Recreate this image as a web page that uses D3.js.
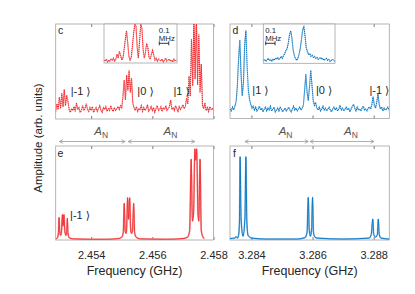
<!DOCTYPE html>
<html><head><meta charset="utf-8">
<script src="https://cdn.jsdelivr.net/npm/d3@7"></script>
<style>
body{margin:0;background:#fff}
svg{display:block}
text{font-family:"Liberation Sans",Arial,Helvetica,sans-serif;fill:#262626}
</style>
</head><body>
<svg width="415" height="294"></svg>
<script>
// ---------------- DATA ----------------
const xTicksLeft = [2.454, 2.456, 2.458];
const xTicksRight = [3.284, 3.286, 3.288];
const xDomainLeft = [2.45284, 2.45800];
const xDomainRight = [3.28330, 3.28851];

// panel c: measured spectrum (sweep start/step in GHz, amplitude arb.)
const cStart = 2.45284, cStep = 0.00004;
const cAmp = [8,16,10,23,11,27,13,31,14,25,19,10,7,11,9,13,8,17,10,12,
  7,9,14,9,11,16,10,8,12,9,13,7,10,12,8,11,14,9,7,12,
  10,13,8,11,9,14,10,8,12,9,11,13,10,14,12,24,41,20,46,30,
  51,28,43,17,12,9,13,8,11,10,14,8,12,9,11,15,8,10,13,9,
  12,7,11,14,9,10,13,8,12,10,14,9,11,13,20,10,12,9,14,11,
  8,13,10,12,15,11,13,22,16,45,24,84,35,110,42,110,36,89,28,58,
  14,11,17,9,12,8,13,10,11,9];

// panel d: measured spectrum
const dStart = 3.28330, dStep = 0.00004;
const dAmp = [10,8,12,9,13,18,34,62,83,48,24,38,78,93,55,30,20,15,11,13,
  9,12,8,10,13,9,11,7,10,12,8,11,9,13,8,10,12,7,9,11,
  8,12,10,7,9,11,8,10,12,9,7,10,13,9,11,8,10,12,9,11,
  14,30,47,28,19,33,51,36,19,14,17,11,9,12,8,10,13,9,11,8,
  10,12,9,7,10,12,9,11,8,10,14,9,11,8,10,12,9,11,7,10,
  13,15,11,8,12,9,10,8,11,13,9,10,8,11,12,10,15,23,14,11,
  17,26,15,10,12,8,11,9,10,12,9];

// insets (offset in MHz, amplitude arb.)
const insetCStep = 0.0125;
const insetCAmp = [3,2,4,1,3,2,4,3,5,2,4,9,5,12,8,3,5,14,24,33,
  21,7,3,6,18,30,40,38,16,5,22,40,36,14,5,11,20,16,6,4,
  9,13,8,3,5,2,4,3,2,4,1,3,5,2,3,4,2,3,1,4,2,3];
const insetDStep = 0.0128;
const insetDAmp = [3,4,2,3,5,3,4,2,4,3,5,4,6,4,5,7,5,8,10,13,
  15,21,29,33,26,14,8,5,3,5,9,15,24,34,37,28,16,12,9,10,
  7,8,6,7,5,6,4,5,6,4,5,3,4,5,3,4,2,3,4,3,2];
const scaleBarMHz = 0.1;

// panel e: simulated spectrum
const eFreq = [2.45284,2.45289,2.45293,2.45295,2.45297,2.45300,2.45303,2.45306,2.45308,2.45311,
  2.45314,2.45318,2.45320,2.45322,2.45324,2.45328,2.45340,2.45400,2.45450,2.45490,
  2.45500,2.45505,2.45508,2.45511,2.45514,2.45516,2.45519,2.45522,2.45526,2.45529,
  2.45532,2.45535,2.45539,2.45542,2.45547,2.45560,2.45650,2.45700,2.45715,2.45722,
  2.45727,2.45731,2.45735,2.45739,2.45742,2.45745,2.45749,2.45752,2.45756,2.45760,
  2.45766,2.45770];
const eAmp = [1.2,2,8,24,10,5,9,27,15,27,
  9,5,8,23,8,2.5,1.2,0.8,0.8,1.5,
  3,8,39,10,7,12,45,22,45,12,
  7,10,39,8,3,1.2,0.8,1.5,3,10,
  86,20,30,97,85,97,30,20,86,10,
  3,1.5];

// panel f: simulated spectrum
const fFreq = [3.28330,3.28345,3.28350,3.28354,3.28358,3.28361,3.28363,3.28366,3.283725,3.28379,
  3.28382,3.28385,3.28389,3.28393,3.28400,3.28450,3.28550,3.28575,3.28582,3.28586,
  3.28589,3.28593,3.28597,3.28600,3.28603,3.28608,3.28615,3.28700,3.28785,3.28792,
  3.28797,3.28800,3.28806,3.28812,3.28815,3.28818,3.28824,3.28851];
const fAmp = [1.5,2,3.5,2,5,20,88.6,25,4,25,
  88.6,20,5,3.5,2,1,1,2.5,8,45.4,
  12,4,12,45.4,8,3,2,1,2,6,
  22.3,6,3,6,22.3,6,2,1];

// annotations
const ketC = [["|-1 \u27E9",2.45333],["|0 \u27E9",2.45551],["|1 \u27E9",2.45669]];
const ketD = [["|1 \u27E9",3.28403],["|0 \u27E9",3.28611],["|-1 \u27E9",3.28786]];
const ketE = [["|-1 \u27E9",2.45331]];
const arrowsLeft = [[2.45296,2.45511],[2.45521,2.45739]];
const arrowsRight = [[3.28379,3.28586],[3.28592,3.28801]];

// ---------------- DRAW ----------------
const svg = d3.select("svg");
const red = "#f0282d", redLight = "#f9a3a3";
const blue = "#0072bd", blueLight = "#9cc8ea";
const boxStroke = "#a3a3a3";

const xL = d3.scaleLinear().domain(xDomainLeft).range([55.7, 213.5]);
const xR = d3.scaleLinear().domain(xDomainRight).range([230, 389.3]);
const yC = d3.scaleLinear().domain([0,100]).range([119,24]);
const yD = d3.scaleLinear().domain([0,100]).range([118.5,24]);
const yE = d3.scaleLinear().domain([0,100]).range([240,146]);
const yF = d3.scaleLinear().domain([0,100]).range([240,146]);

const defs = svg.append("defs");
let clipN = 0;
function clip(x0,y0,x1,y1){
  const id = "clip"+(clipN++);
  defs.append("clipPath").attr("id",id).append("rect")
    .attr("x",x0).attr("y",y0).attr("width",x1-x0).attr("height",y1-y0);
  return "url(#"+id+")";
}

function frame(x, y, ticks, labels){
  const [x0,x1] = x.range(), [y1,y0] = y.range();
  const g = svg.append("g");
  const bot = d3.axisBottom(x).tickValues(ticks).tickSize(-3)
    .tickPadding(11).tickFormat(labels ? d3.format(".3f") : "");
  g.append("g").attr("transform",`translate(0,${y1})`).call(bot);
  g.append("g").attr("transform",`translate(0,${y0})`)
    .call(d3.axisTop(x).tickValues(ticks).tickSize(-3).tickFormat(""));
  g.selectAll(".domain").remove();
  g.selectAll(".tick line").attr("stroke","#444").attr("stroke-width",0.7);
  g.selectAll(".tick text").attr("font-size",11).attr("fill","#262626")
    .attr("font-family",'"Liberation Sans",Arial,sans-serif');
  svg.append("rect").attr("x",x0).attr("y",y0).attr("width",x1-x0).attr("height",y1-y0)
    .attr("fill","none").attr("stroke",boxStroke).attr("stroke-width",0.8);
  return clip(x0,y0,x1,y1);
}

function measured(x, y, start, step, amp, col, light, cp){
  const line = d3.line().x((d,i)=>x(start+i*step)).y(d=>y(d));
  const g = svg.append("g").attr("clip-path",cp);
  g.append("path").attr("d",line(amp)).attr("fill","none").attr("stroke",light).attr("stroke-width",1);
  g.append("path").attr("d",line(amp)).attr("fill","none").attr("stroke",col)
    .attr("stroke-width",1.1).attr("stroke-dasharray","1.1,0.9");
}
function simulated(x, y, fr, amp, col, light, cp){
  const line = d3.line().curve(d3.curveMonotoneX).x((d,i)=>x(fr[i])).y(d=>y(d));
  const g = svg.append("g").attr("clip-path",cp);
  g.append("path").attr("d",line(amp)).attr("fill","none").attr("stroke",light).attr("stroke-width",1.7);
  g.append("path").attr("d",line(amp)).attr("fill","none").attr("stroke",col).attr("stroke-width",0.9);
}

// panels
const cpC = frame(xL, yC, xTicksLeft, false);
const cpD = frame(xR, yD, xTicksRight, false);
const cpE = frame(xL, yE, xTicksLeft, true);
const cpF = frame(xR, yF, xTicksRight, true);

measured(xL, yC, cStart, cStep, cAmp, red, redLight, cpC);
measured(xR, yD, dStart, dStep, dAmp, blue, blueLight, cpD);
simulated(xL, yE, eFreq, eAmp, red, redLight, cpE);
simulated(xR, yF, fFreq, fAmp, blue, blueLight, cpF);

// insets
function inset(x0,y0,x1,y1, step, amp, col, light, barStart){
  const xi = d3.scaleLinear().domain([0,0.77]).range([x0,x1]);
  const yi = d3.scaleLinear().domain([0,40]).range([y1,y0]);
  svg.append("rect").attr("x",x0).attr("y",y0).attr("width",x1-x0).attr("height",y1-y0)
    .attr("fill","#fff");
  const cp = clip(x0,y0,x1,y1);
  measured(xi, yi, 0, step, amp, col, light, cp);
  svg.append("rect").attr("x",x0).attr("y",y0).attr("width",x1-x0).attr("height",y1-y0)
    .attr("fill","none").attr("stroke",boxStroke).attr("stroke-width",0.8);
  const bx0 = xi(barStart), bx1 = xi(barStart+scaleBarMHz);
  const g = svg.append("g");
  g.append("text").attr("x",bx0-0.5).attr("y",y0+8.6).attr("font-size",7.8).text("0.1");
  g.append("text").attr("x",bx0-0.5).attr("y",y0+17.2).attr("font-size",7.8).text("MHz");
  const by = y0+19.3;
  g.append("path").attr("d",`M${bx0},${by-2}V${by+2}M${bx0},${by}H${bx1}M${bx1},${by-2}V${by+2}`)
    .attr("stroke","#222").attr("stroke-width",0.9).attr("fill","none");
}
inset(104,24,177,63, insetCStep, insetCAmp, red, redLight, 0.583);
inset(263.3,24,335,63.3, insetDStep, insetDAmp, blue, blueLight, 0.026);

// kets
function kets(list, x, y, level){
  list.forEach(([t,f])=>{
    svg.append("text").attr("x",x(f)).attr("y",y(level)).attr("font-size",11)
      .style("font-family",'"Liberation Sans","DejaVu Sans",sans-serif')
      .style("fill","#262626")
      .text(t);
  });
}
kets(ketC, xL, yC, 25.3);
kets(ketD, xR, yD, 25.8);
kets(ketE, xL, yE, 22.3);

// panel letters
[["c",58,33.5],["d",232.5,34],["e",57.5,156.5],["f",233,156.5]].forEach(([t,x,y])=>{
  svg.append("text").attr("x",x).attr("y",y).attr("font-size",10.5).text(t);
});

// A_N arrows
function arrows(list, x, y){
  list.forEach(([a,b])=>{
    const xa = x(a), xb = x(b);
    const g = svg.append("g").attr("stroke","#9a9a9a").attr("fill","none").attr("stroke-width",0.8);
    g.append("line").attr("x1",xa).attr("x2",xb).attr("y1",y).attr("y2",y);
    g.append("path").attr("d",`M${xa+3.5},${y-1.8}L${xa},${y}L${xa+3.5},${y+1.8}`);
    g.append("path").attr("d",`M${xb-3.5},${y-1.8}L${xb},${y}L${xb-3.5},${y+1.8}`);
    const t = svg.append("text").attr("x",(xa+xb)/2+2).attr("y",y-6.5).attr("font-size",11.5)
      .style("fill","#555");
    t.append("tspan").style("font-style","italic").style("fill","#555").text("A");
    t.append("tspan").attr("font-size",8.5).attr("dy",3).style("fill","#555").text("N");
  });
}
arrows(arrowsLeft, xL, 141.5);
arrows(arrowsRight, xR, 141.5);

// axis titles
svg.append("text").attr("x",(55.7+213.5)/2).attr("y",274.5).attr("text-anchor","middle")
  .attr("font-size",12.5).text("Frequency (GHz)");
svg.append("text").attr("x",(230+389.3)/2).attr("y",274.5).attr("text-anchor","middle")
  .attr("font-size",12.5).text("Frequency (GHz)");
svg.append("text").attr("transform","translate(41.5,138) rotate(-90)").attr("text-anchor","middle")
  .attr("font-size",11.5).text("Amplitude (arb. units)");
</script>
</body></html>
